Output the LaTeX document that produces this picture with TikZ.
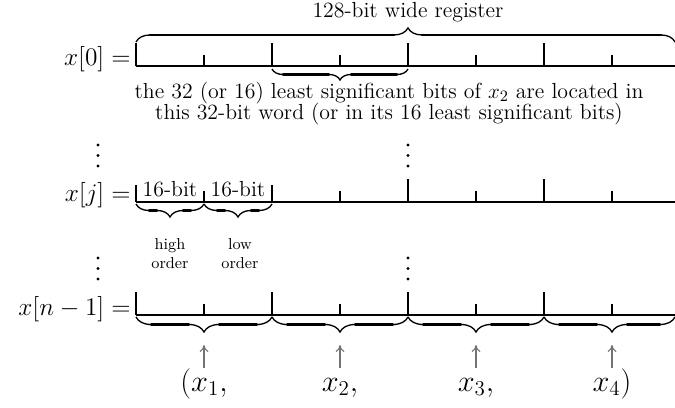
\documentclass[tikz,border=0pt]{standalone}
\usetikzlibrary{decorations.pathreplacing,arrows.meta}
\newcommand\ubr[5]{%
  \pgfmathsetmacro\asp{(#3-#1)/(#2-#1)}%
  \pgfmathsetmacro\amp{#5*0.569}%
  \draw[brc, decoration={brace, mirror, amplitude=\amp pt, aspect=\asp}] (#1,#4) -- (#2,#4);
  \draw[brthick] ({#1+#5},{#4+#5/2}) -- ({#3-#5},{#4+#5/2})
                 ({#3+#5},{#4+#5/2}) -- ({#2-#5},{#4+#5/2});
}
\begin{document}
\begin{tikzpicture}[x=0.02cm,y=-0.02cm,
  reg/.style={line width=1.1pt},
  tick/.style={line width=0.7pt},
  brc/.style={decorate, line width=0.75pt},
  brthick/.style={line width=1.6pt, line cap=round},
  arr/.style={draw=black!55, line width=0.6pt, -{To[length=4pt,width=5pt]}},
  eq/.style={inner sep=0pt, anchor=base east, font=\fontsize{14.4}{17}\selectfont},
  txt/.style={inner sep=0pt, anchor=base, font=\fontsize{12.4}{12.5}\selectfont},
  small/.style={inner sep=0pt, anchor=north, align=center, font=\fontsize{9}{11}\selectfont},
  vlab/.style={inner sep=0pt, anchor=base, font=\LARGE},
  dot/.style={fill, circle, inner sep=0pt, minimum size=1.8pt}]
\useasboundingbox (0,0) rectangle (675,408);

% ---------- row 0 ----------
\node[eq] (l0) at (131,66) {$x[0] =$};
\draw[reg] (136,66) -- (675,66);
\foreach \x in {136,272,408,544} \draw[tick] (\x,43) -- (\x,66);
\foreach \x in {204,340,476,612} \draw[tick] (\x,55) -- (\x,66);
\pgfmathsetmacro\asp{(408-136)/(675-136)}
\draw[brc, decoration={brace, amplitude=8pt, aspect=\asp}] (136,42) -- (675,42);
\draw[brthick] (150,35) -- (394,35) (422,35) -- (661,35);
\node[txt] (reg) at (408,18) {128-bit wide register};
\ubr{272}{408}{340}{69}{11}
\node[txt, align=center] (note) at (389,120)
  {the 32 (or 16) least significant bits of $x_2$ are located in\\
   this 32-bit word (or in its 16 least significant bits)};

% ---------- dots ----------
\foreach \x/\n in {98/a,408/b} {
  \node[dot] (u1\n) at (\x,145) {};
  \node[dot] (u2\n) at (\x,155.5) {};
  \node[dot] (u3\n) at (\x,166) {};
  \node[dot] (d1\n) at (\x,258) {};
  \node[dot] (d2\n) at (\x,268.5) {};
  \node[dot] (d3\n) at (\x,279) {};
}

% ---------- row j ----------
\node[eq] (lj) at (131,202) {$x[j] =$};
\draw[reg] (136,202) -- (675,202);
\foreach \x in {136,272} \draw[tick] (\x,185) -- (\x,202);
\foreach \x in {408,544} \draw[tick] (\x,179) -- (\x,202);
\foreach \x in {204,340,476,612} \draw[tick] (\x,191) -- (\x,202);
\node[txt] (h16) at (170,197) {16-bit};
\node[txt] (l16) at (238,197) {16-bit};
\ubr{136}{204}{170}{204}{13}
\ubr{204}{272}{238}{204}{13}
\node[small] (hi) at (170,238) {high\\order};
\node[small] (lo) at (240,238) {low\\order};

% ---------- row n-1 ----------
\node[eq] (ln) at (131,315) {$x[n-1] =$};
\draw[reg] (136,315) -- (675,315);
\foreach \x in {136,272,408,544} \draw[tick] (\x,292) -- (\x,315);
\foreach \x in {204,340,476,612} \draw[tick] (\x,304) -- (\x,315);
\ubr{136}{272}{204}{317}{15}
\ubr{272}{408}{340}{317}{15}
\ubr{408}{544}{476}{317}{15}
\ubr{544}{675}{612}{317}{15}

% ---------- component labels ----------
\foreach \x/\n/\t in {204/1/{$(x_1,$},340/2/{$x_2,$},476/3/{$x_3,$},612/4/{$x_4)$}} {
  \coordinate (t\n) at (\x,345);
  \node[vlab] (c\n) at (\x,391) {\t};
  \draw[arr] (\x,368) -- (t\n);
}
\end{tikzpicture}
\end{document}
